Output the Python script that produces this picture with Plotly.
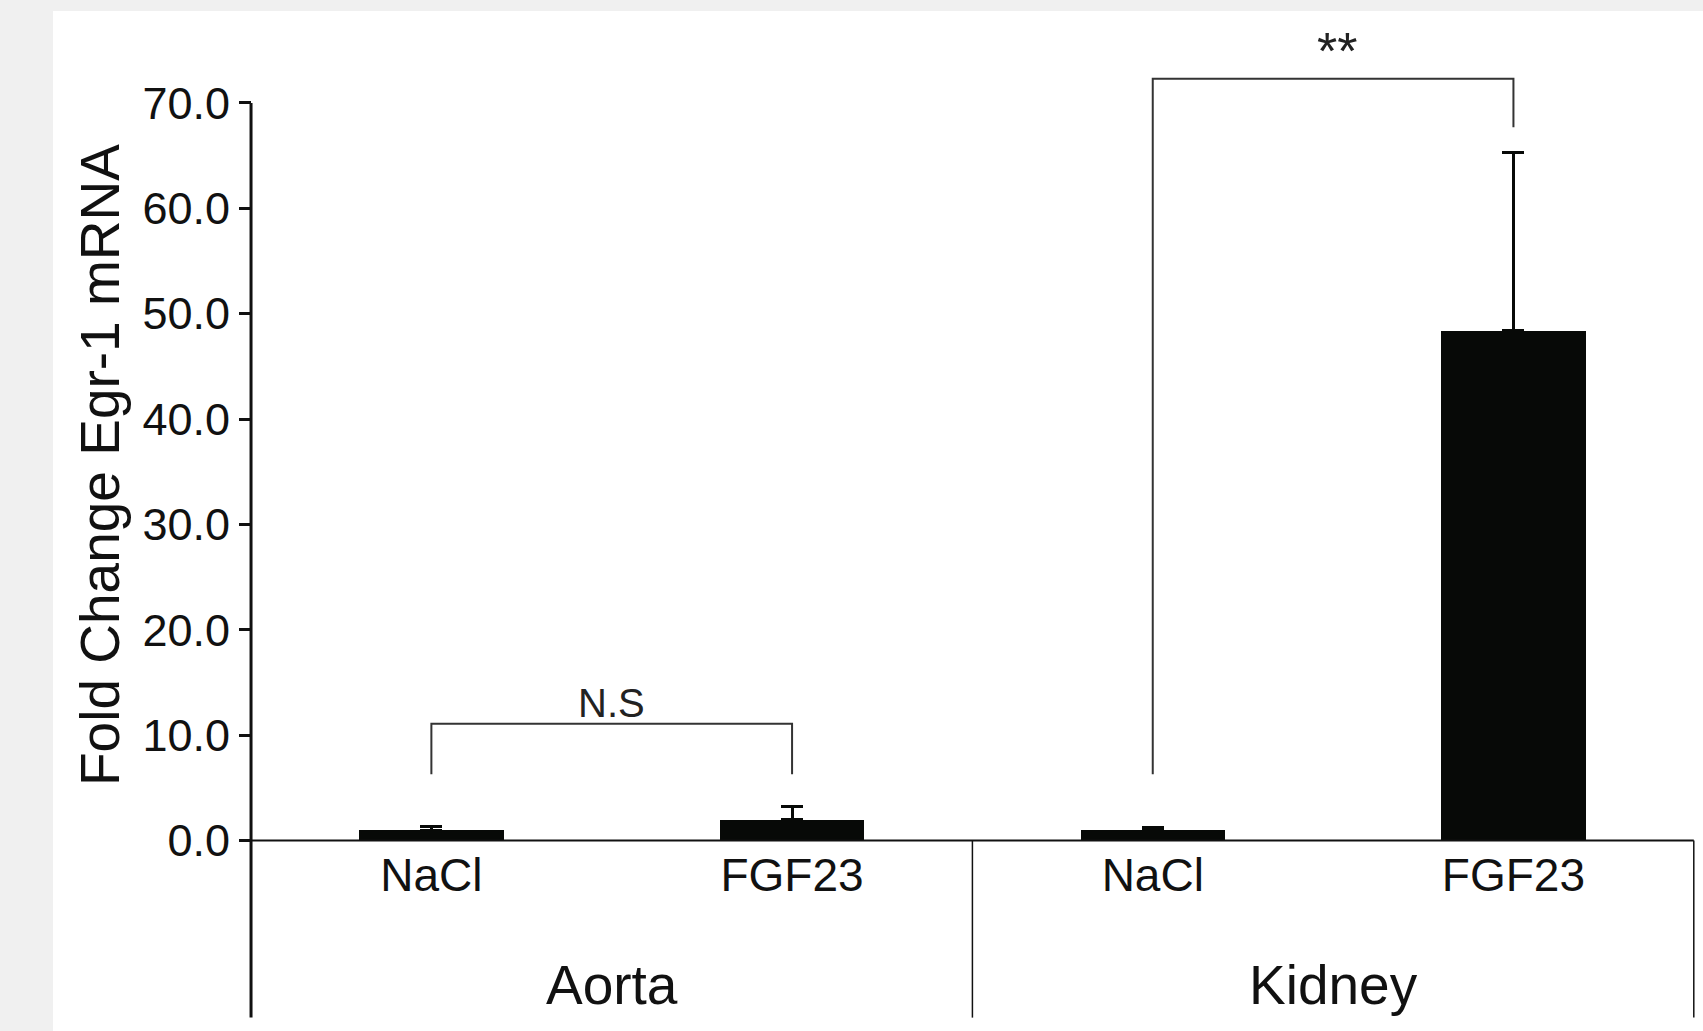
import plotly.graph_objects as go

# ---- data ----
categories = ["NaCl", "FGF23", "NaCl ", "FGF23 "]
tick_text = ["NaCl", "FGF23", "NaCl", "FGF23"]
groups = ["Aorta", "Kidney"]
means = [1.0, 2.0, 1.0, 48.4]
errors = [0.3, 1.25, 0.25, 16.9]
y_tickvals = [0, 10, 20, 30, 40, 50, 60, 70]
y_ticktext = ["0.0", "10.0", "20.0", "30.0", "40.0", "50.0", "60.0", "70.0"]
sig_labels = ["N.S", "**"]
sig_y = [13.1, 74.9]
bracket_top = [11.1, 72.3]
bracket_leg_bottom = [[6.3, 6.3], [6.3, 67.7]]

# ---- layout constants ----
W, H = 1703, 1031
ML, MR, MT, MB = 233, 2, 11, 6
XMIN, XMAX = -0.55, 3.52
YMIN, YMAX = -17.5, 78.73
FONT = "Liberation Sans, Arial, sans-serif"
INK = "#111111"
x_idx = list(range(len(categories)))

fig = go.Figure()
fig.add_trace(go.Bar(
    x=x_idx, y=means, width=0.4,
    marker=dict(color="#070907", line=dict(width=0)),
    error_y=dict(type="data", symmetric=False, array=errors,
                 arrayminus=[0] * len(errors), color="#070907",
                 thickness=3, width=11),
    showlegend=False, hoverinfo="skip",
))

shapes = []
# white panel
shapes.append(dict(type="rect", xref="paper", yref="paper",
                   x0=(53 - ML) / (W - ML - MR), x1=1.01, y0=-0.01, y1=1.0,
                   fillcolor="white", line=dict(width=0), layer="below"))
# y axis line
shapes.append(dict(type="line", xref="x", yref="y", x0=-0.5, x1=-0.5,
                   y0=YMIN + 0.7, y1=70, line=dict(color=INK, width=3)))
# baseline
shapes.append(dict(type="line", xref="x", yref="y", x0=-0.5, x1=3.5,
                   y0=0, y1=0, line=dict(color=INK, width=2)))
# group separators
for sx in [1.5, 3.5]:
    shapes.append(dict(type="line", xref="x", yref="y", x0=sx, x1=sx,
                       y0=YMIN + 0.7, y1=0, line=dict(color=INK, width=1.5)))
# significance brackets
pairs = [(0, 1), (2, 3)]
for (a, b), top, legs in zip(pairs, bracket_top, bracket_leg_bottom):
    shapes.append(dict(type="path", xref="x", yref="y",
                       path=f"M {a},{legs[0]} L {a},{top} L {b},{top} L {b},{legs[1]}",
                       line=dict(color="#333333", width=2)))

annotations = []
for gi, g in enumerate(groups):
    annotations.append(dict(x=0.5 + 2 * gi, y=-13.7, xref="x", yref="y",
                            text=g, showarrow=False, yanchor="middle",
                            font=dict(family=FONT, size=55, color=INK)))
for (a, b), lab, yy in zip(pairs, sig_labels, sig_y):
    annotations.append(dict(x=(a + b) / 2 + (0.01 if lab == "**" else 0), y=yy,
                            xref="x", yref="y",
                            text=lab, showarrow=False, yanchor="middle",
                            font=dict(family=FONT, size=40 if lab == "N.S" else 52,
                                      color="#222222")))
annotations.append(dict(x=(100 - ML) / (W - ML - MR), y=(H - MB - 465) / (H - MT - MB),
                        xref="paper", yref="paper", text="Fold Change Egr-1 mRNA",
                        textangle=-90, showarrow=False, xanchor="center", yanchor="middle",
                        font=dict(family=FONT, size=55, color=INK)))

fig.update_layout(
    width=W, height=H,
    margin=dict(l=ML, r=MR, t=MT, b=MB, pad=0),
    paper_bgcolor="#f0f0f0", plot_bgcolor="white",
    shapes=shapes, annotations=annotations,
    hovermode=False,
    xaxis=dict(range=[XMIN, XMAX], tickvals=x_idx, ticktext=tick_text,
               showgrid=False, zeroline=False, showline=False, ticks="",
               anchor="free", position=(0 - YMIN) / (YMAX - YMIN),
               ticklabelstandoff=3, fixedrange=True,
               tickfont=dict(family=FONT, size=46, color=INK)),
    yaxis=dict(range=[YMIN, YMAX], tickvals=y_tickvals, ticktext=y_ticktext,
               showgrid=False, zeroline=False, showline=False,
               ticks="outside", ticklen=12, tickwidth=2.5, tickcolor=INK,
               anchor="free", position=(-0.5 - XMIN) / (XMAX - XMIN),
               fixedrange=True,
               tickfont=dict(family=FONT, size=45, color=INK)),
    bargap=0,
)

fig.write_html("out.html", config={"displayModeBar": False},
               post_script="document.body.style.margin='0px';document.body.style.padding='0px';")
